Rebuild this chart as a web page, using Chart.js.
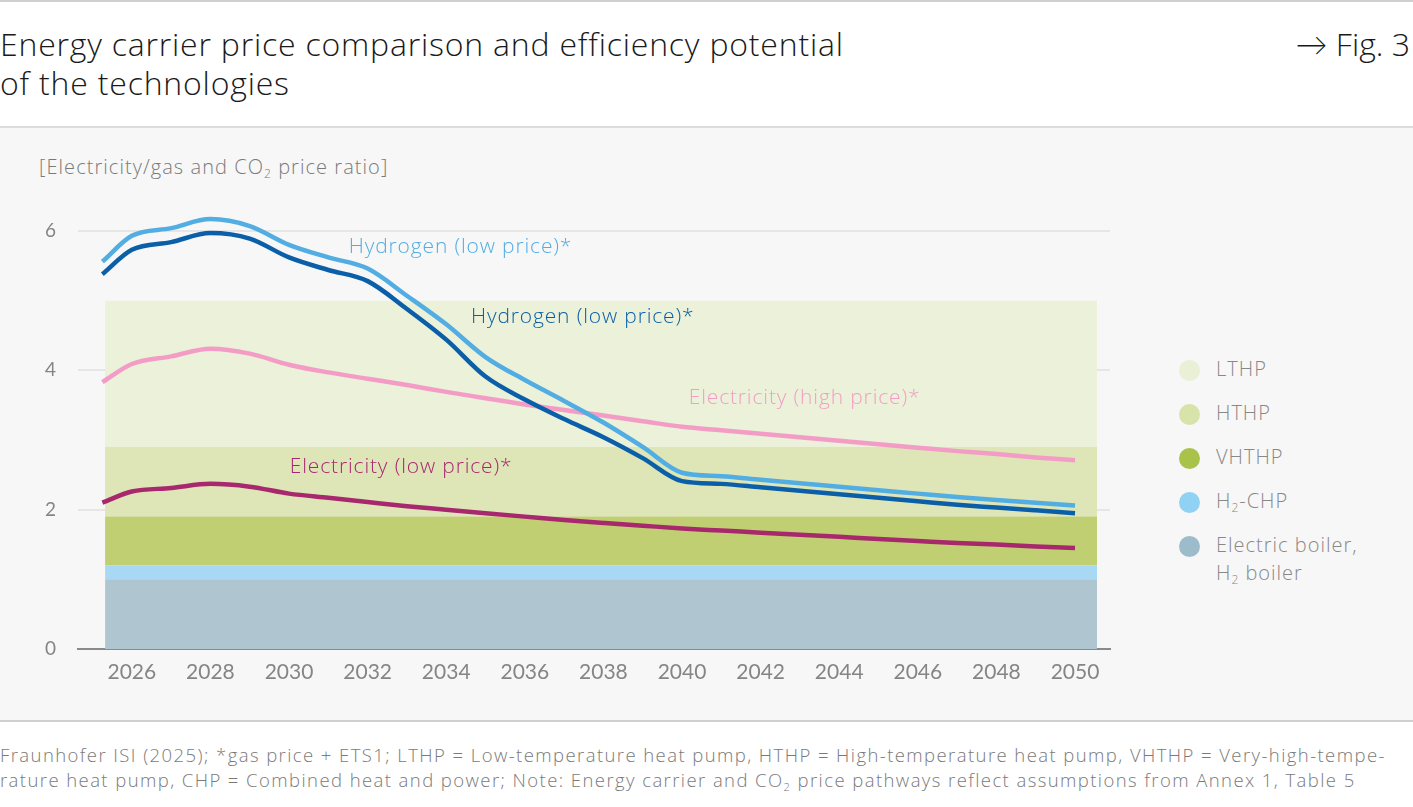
<!DOCTYPE html>
<html lang="en">
<head>
    <meta charset="UTF-8">
    <title>Energy carrier price comparison</title>
    <script src="https://cdn.jsdelivr.net/npm/chart.js"></script>
    <style>
        body { margin: 0; width: 1413px; height: 807px; background: #fff; font-family: "Open Sans", Lato, sans-serif; position: relative; overflow: hidden; }
        .topline { position: absolute; left: 0; top: 0; width: 1413px; height: 2px; background: #d0d0d0; }
        .title { position: absolute; left: 0; top: 24px; font-size: 32px; line-height: 39px; color: #1a1a1a; font-weight: 300; letter-spacing: 0.8px; }
        .fig { position: absolute; right: 3px; top: 24px; font-size: 32px; line-height: 39px; color: #1a1a1a; font-weight: 300; }
        .panel { position: absolute; left: 0; top: 126px; width: 1413px; height: 592px; background: #f7f7f7; border-top: 2px solid #dcdcdc; border-bottom: 2px solid #d0d0d0; }
        .ytitle { position: absolute; left: 39px; top: 153px; font-size: 20px; color: #7a7a7a; font-weight: 300; letter-spacing: 1.05px; }
        sub { font-size: 60%; vertical-align: -0.35em; line-height: 0; }
        .chart-container { position: absolute; left: 0; top: 128px; width: 1113px; height: 590px; }
        .legend { position: absolute; left: 1179px; top: 355px; font-size: 20px; color: #888; font-weight: 300; letter-spacing: 1px; }
        .legend div { position: relative; padding-left: 37px; height: 44px; line-height: 28px; }
        .legend span.dot { position: absolute; left: 0; top: 5px; width: 21px; height: 21px; border-radius: 50%; }
        .footer { position: absolute; left: 0; top: 742px; font-size: 18.5px; line-height: 25px; color: #7a7a7a; letter-spacing: 1.42px; font-weight: 300; white-space: nowrap; }
    </style>
</head>
<body>
    <div class="topline"></div>
    <div class="title">Energy carrier price comparison and efficiency potential<br>of the technologies</div>
    <div class="fig">&#8594; Fig. 3</div>
    <div class="panel"></div>
    <div class="ytitle">[Electricity/gas and CO<sub>2</sub> price ratio]</div>
    <div class="chart-container"><canvas id="priceChart"></canvas></div>
    <div class="legend" id="legend"></div>
    <div class="footer">Fraunhofer ISI (2025); *gas price + ETS1; LTHP = Low-temperature heat pump, HTHP = High-temperature heat pump, VHTHP = Very-high-tempe-<br>rature heat pump, CHP = Combined heat and power; Note: Energy carrier and CO<sub>2</sub> price pathways reflect assumptions from Annex 1, Table 5</div>

    <script>
        const years = [2025.25, 2026, 2027, 2028, 2029, 2030, 2031, 2032, 2033, 2034, 2035, 2036, 2037,
            2038, 2039, 2040, 2041, 2042, 2043, 2044, 2045, 2046, 2047, 2048, 2049, 2050];

        const hydrogenA = [5.56, 5.93, 6.04, 6.17, 6.07, 5.80, 5.62, 5.46, 5.07, 4.66, 4.19, 3.86, 3.56,
            3.25, 2.90, 2.53, 2.48, 2.43, 2.38, 2.33, 2.28, 2.23, 2.18, 2.14, 2.10, 2.06];
        const hydrogenB = [5.38, 5.73, 5.84, 5.97, 5.89, 5.62, 5.44, 5.28, 4.88, 4.44, 3.91, 3.58, 3.30,
            3.04, 2.74, 2.41, 2.37, 2.32, 2.27, 2.22, 2.17, 2.12, 2.07, 2.03, 1.99, 1.95];
        const elecHigh = [3.83, 4.09, 4.20, 4.31, 4.24, 4.08, 3.97, 3.88, 3.79, 3.69, 3.60, 3.51, 3.43,
            3.35, 3.27, 3.19, 3.14, 3.09, 3.04, 2.99, 2.94, 2.89, 2.84, 2.80, 2.75, 2.71];
        const elecLow = [2.10, 2.26, 2.31, 2.37, 2.33, 2.23, 2.17, 2.11, 2.05, 2.00, 1.95, 1.90, 1.85,
            1.81, 1.77, 1.73, 1.70, 1.67, 1.64, 1.61, 1.58, 1.55, 1.52, 1.50, 1.47, 1.45];

        // technology bands (upper bound of each band, bottom to top)
        const bandNames = ['Electric boiler, H2 boiler', 'H2-CHP', 'VHTHP', 'HTHP', 'LTHP'];
        const bandTops = [1.0, 1.2, 1.9, 2.9, 5.0];
        const bandRange = [2025.32, 2050.56];
        const bandColors = ['#afc6d1', '#a7d9f4', '#bfcf71', '#dee6b8', '#ecf1da'];
        const legendColors = ['#9dbccb', '#8fd2f4', '#a9c24a', '#d8e3a9', '#e9f0d6'];

        const xTicks = [2026, 2028, 2030, 2032, 2034, 2036, 2038, 2040, 2042, 2044, 2046, 2048, 2050];
        const yTicks = [0, 2, 4, 6];

        const lineNames = ['Hydrogen (low price)*', 'Hydrogen (low price)*', 'Electricity (high price)*', 'Electricity (low price)*'];
        const lineColors = ['#52ade3', '#0b5fa8', '#f39dc6', '#a8286e'];
        const labelAt = [[2031.52, 5.77], [2034.63, 4.77], [2040.17, 3.6], [2030.02, 2.61]];

        const toPoints = vals => vals.map((v, i) => ({ x: years[i], y: v }));

        const datasets = [];
        [hydrogenA, hydrogenB, elecHigh, elecLow].forEach((vals, i) => {
            datasets.push({
                label: lineNames[i],
                data: toPoints(vals),
                borderColor: lineColors[i],
                borderWidth: 4.5,
                pointRadius: 0,
                cubicInterpolationMode: 'monotone',
                fill: false,
                order: 0
            });
        });
        bandTops.forEach((top, i) => {
            datasets.push({
                label: bandNames[i],
                data: [{ x: bandRange[0], y: top }, { x: bandRange[1], y: top }],
                backgroundColor: bandColors[i],
                borderWidth: 0,
                pointRadius: 0,
                fill: i === 0 ? 'origin' : '-1',
                order: 10
            });
        });

        const lineLabels = {
            id: 'lineLabels',
            afterDatasetsDraw(chart) {
                const ctx = chart.ctx;
                const xs = chart.scales.x, ys = chart.scales.y;
                ctx.save();
                ctx.font = '300 21px "Open Sans", Lato, sans-serif';
                ctx.letterSpacing = '0.85px';
                ctx.textAlign = 'left';
                ctx.textBaseline = 'middle';
                labelAt.forEach((p, i) => {
                    ctx.fillStyle = lineColors[i];
                    ctx.fillText(lineNames[i], xs.getPixelForValue(p[0]), ys.getPixelForValue(p[1]));
                });
                ctx.restore();
            }
        };

        new Chart(document.getElementById('priceChart'), {
            type: 'line',
            data: { datasets: datasets },
            options: {
                responsive: true,
                maintainAspectRatio: false,
                animation: false,
                layout: { padding: { top: 73, right: 3, left: 0, bottom: 0 } },
                plugins: { legend: { display: false }, tooltip: { enabled: false } },
                scales: {
                    x: {
                        type: 'linear',
                        min: 2024.63,
                        max: 2050.89,
                        afterBuildTicks: s => { s.ticks = xTicks.map(v => ({ value: v })); },
                        afterFit: s => { s.height = 69; },
                        grid: { display: false, drawTicks: false },
                        border: { display: true, color: '#8a8a8a', width: 2 },
                        ticks: { color: '#858585', font: { size: 21, family: 'Lato' }, padding: 11, maxRotation: 0,
                            callback: v => String(v) }
                    },
                    y: {
                        min: 0,
                        max: 6.43,
                        afterBuildTicks: s => { s.ticks = yTicks.map(v => ({ value: v })); },
                        afterFit: s => { s.width = 78; },
                        grid: { color: ctx => ctx.tick.value === 0 ? 'rgba(0,0,0,0)' : '#e6e6e6', lineWidth: 2, drawTicks: false },
                        border: { display: false },
                        ticks: { color: '#858585', font: { size: 19, family: 'Lato' }, padding: 22 }
                    }
                }
            },
            plugins: [lineLabels]
        });

        // HTML legend, top to bottom
        const legendHtml = [
            ['LTHP', 4], ['HTHP', 3], ['VHTHP', 2], ['H<sub>2</sub>-CHP', 1], ['Electric boiler,<br>H<sub>2</sub> boiler', 0]
        ].map(([txt, i]) => `<div><span class="dot" style="background:${legendColors[i]}"></span>${txt}</div>`).join('');
        document.getElementById('legend').innerHTML = legendHtml;
    </script>
</body>
</html>
